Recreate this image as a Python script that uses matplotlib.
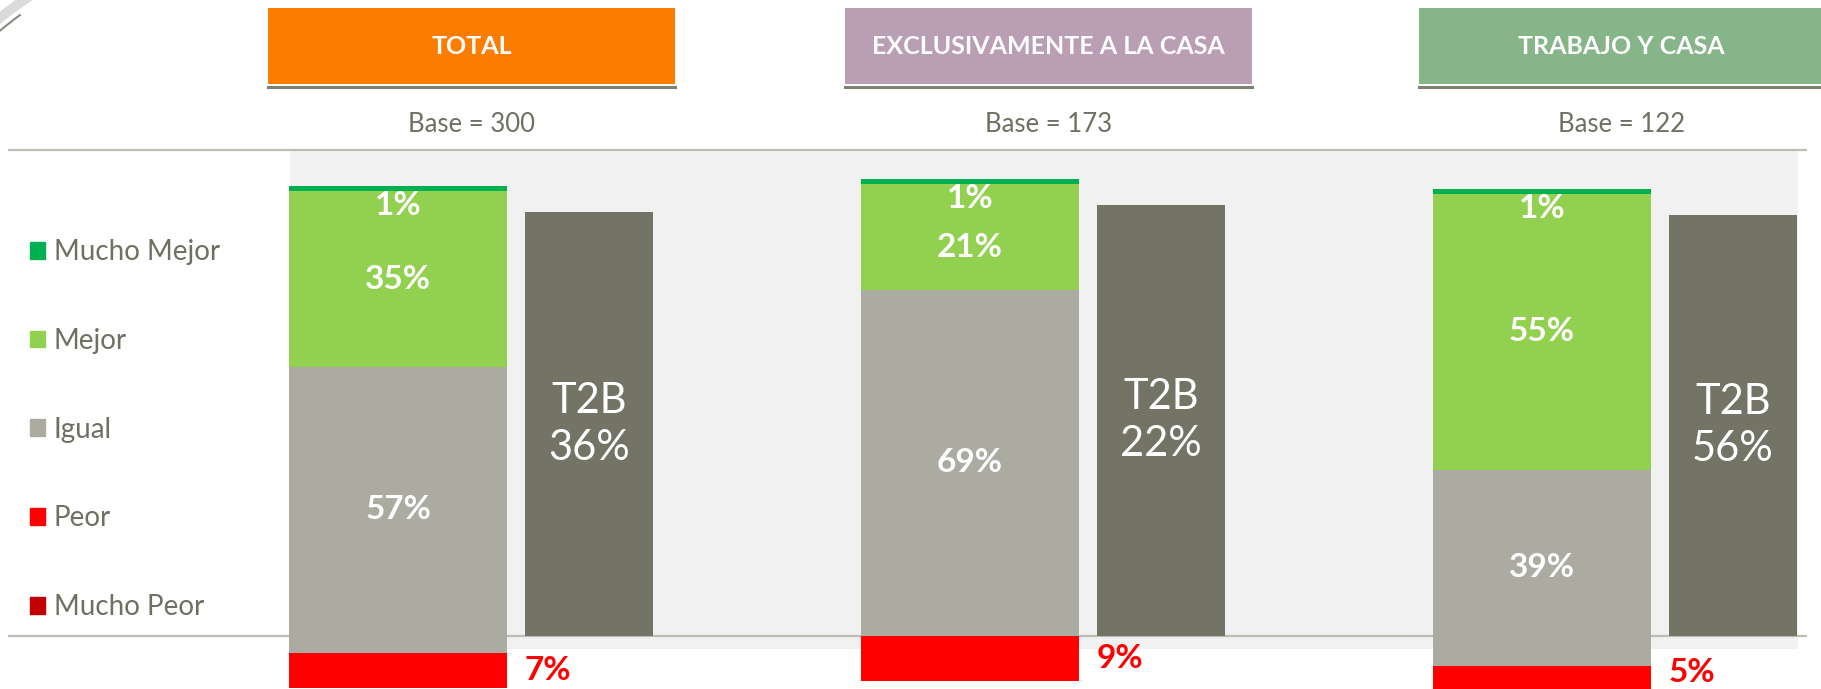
import numpy as np
import matplotlib.pyplot as plt
from matplotlib.patches import Rectangle, Patch, Arc

plt.rcParams['font.family'] = ['Lato', 'DejaVu Sans']

# data
groups = ["TOTAL", "EXCLUSIVAMENTE A LA CASA", "TRABAJO Y CASA"]
bases = [300, 173, 122]
mucho_mejor = [1, 1, 1]
mejor = [35, 21, 55]
igual = [57, 69, 39]
peor = [7, 9, 5]
mucho_peor = [0, 0, 0]
t2b = [36, 22, 56]
legend_labels = ["Mucho Mejor", "Mejor", "Igual", "Peor", "Mucho Peor"]

# colours
c_mm, c_m, c_ig, c_p, c_mp = "#00B050", "#92D050", "#ABABA2", "#FF0000", "#C00000"
c_t2b = "#737366"
header_colors = ["#FA7D00", "#BA9EB3", "#86B589"]
grey_txt = "#6F6F62"

# layout (stack offsets as on the slide, y in % units)
igual_base = [-3.4, 0.0, -5.9]
px = 5.02                     # pixels per %
W, H = 1821, 689
y0_px = 636                   # baseline row in pixels
x_center_px, x_step_px = 471.5, 572.0


def ypx(p):
    return (y0_px - p) / px


def xpx(p):
    return (p - x_center_px) / x_step_px


fig = plt.figure(figsize=(W / 100, H / 100), dpi=100)
ax = fig.add_axes([0, 0, 1, 1])
ax.set_xlim(xpx(0), xpx(W))
ax.set_ylim(ypx(H), ypx(0))
ax.axis("off")

x = np.arange(len(groups))
stack_x = x - 0.1285
t2b_x = x + 0.2054
stack_w = 0.381
t2b_w = 0.224

# background panel and rules
ax.add_patch(Rectangle((xpx(290), ypx(649)), xpx(1798) - xpx(290), ypx(150) - ypx(649),
                       color="#F1F1F1", zorder=0, lw=0))
ax.plot([xpx(9), xpx(1806)], [ypx(150), ypx(150)], color="#BDBDB3", lw=1.6, zorder=1)
ax.plot([xpx(9), xpx(1806)], [0, 0], color="#BDBDB3", lw=1.6, zorder=1)

# stacked bars
ig_b = np.array(igual_base)
pe_b = ig_b - np.array(peor)
mp_b = pe_b - np.array(mucho_peor)
me_b = ig_b + np.array(igual)
mm_b = me_b + np.array(mejor)
top = mm_b + np.array(mucho_mejor)

ax.bar(stack_x, mucho_peor, stack_w, bottom=mp_b, color=c_mp, zorder=2)
ax.bar(stack_x, peor, stack_w, bottom=pe_b, color=c_p, zorder=2)
ax.bar(stack_x, igual, stack_w, bottom=ig_b, color=c_ig, zorder=2)
ax.bar(stack_x, mejor, stack_w, bottom=me_b, color=c_m, zorder=2)
ax.bar(stack_x, mucho_mejor, stack_w, bottom=mm_b, color=c_mm, zorder=2)

# T2B bars sit a bit under the stack top
t2b_h = top - 5.2
ax.bar(t2b_x, t2b_h, t2b_w, bottom=0, color=c_t2b, zorder=2)

lab = dict(color="white", fontsize=24, fontweight="bold", ha="center", va="center", zorder=3)
for i in range(len(groups)):
    mm_y = top[i] - 3.9
    ax.text(stack_x[i], mm_y, f"{mucho_mejor[i]}%", **lab)
    me_y = min(me_b[i] + mejor[i] / 2, mm_y - 9.7)
    ax.text(stack_x[i], me_y, f"{mejor[i]}%", **lab)
    ax.text(stack_x[i], ig_b[i] + igual[i] / 2, f"{igual[i]}%", **lab)
    pe_y = max(pe_b[i] + peor[i] / 2, ypx(673))
    ax.text(t2b_x[i] - t2b_w / 2, pe_y, f"{peor[i]}%", color=c_p,
            fontsize=24, fontweight="bold", ha="left", va="center", zorder=3)
    ax.text(t2b_x[i], t2b_h[i] / 2, f"T2B\n{t2b[i]}%", color="white", fontsize=30,
            ha="center", va="center", linespacing=1.3, zorder=3)

    # header boxes (the last one runs to the slide edge)
    left = [268, 845, 1419][i]
    right = [675, 1252, W][i]
    hx = (xpx(left) + xpx(right)) / 2
    ax.add_patch(Rectangle((xpx(left), ypx(84)), xpx(right) - xpx(left), ypx(8) - ypx(84),
                           color=header_colors[i], lw=0, zorder=2))
    ax.plot([xpx(left), xpx(right)], [ypx(87), ypx(87)], color="#7F7F72", lw=2.2, zorder=2)
    tx = hx if i < 2 else x[i] + 0.01
    ax.text(tx, ypx(46), groups[i], color="white", fontsize=18, fontweight="bold",
            ha="center", va="center", zorder=3)
    ax.text(tx, ypx(124), f"Base = {bases[i]}", color=grey_txt, fontsize=18.5,
            ha="center", va="center", zorder=3)

# legend on the left
handles = [Patch(color=c) for c in [c_mm, c_m, c_ig, c_p, c_mp]]
leg = ax.legend(handles, legend_labels, loc="upper left",
                bbox_to_anchor=(30 / W, 1 - 239 / H), frameon=False,
                fontsize=20, labelspacing=2.26, handlelength=0.55, handleheight=0.55,
                handletextpad=0.3, borderpad=0, borderaxespad=0)
for t in leg.get_texts():
    t.set_color(grey_txt)

# small swoosh in the top-left corner
fig.patches.append(Arc((250, H - 330), 800, 800, theta1=112, theta2=135, transform=None,
                       color="#DADADA", lw=7, figure=fig))
fig.patches.append(Arc((250, H - 330), 780, 780, theta1=126, theta2=135, transform=None,
                       color="#8A8A80", lw=1.5, figure=fig))

fig.savefig("out.png", dpi=100, facecolor="white")
